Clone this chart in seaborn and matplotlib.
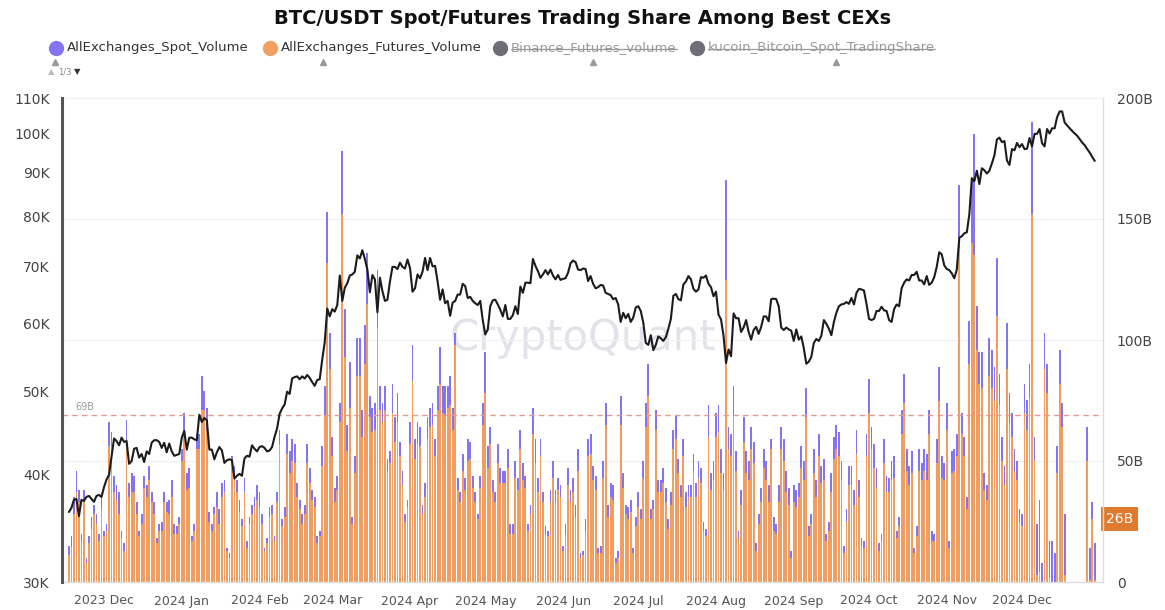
import numpy as np
import pandas as pd
import matplotlib
matplotlib.use("Agg")
import matplotlib.pyplot as plt
from matplotlib.lines import Line2D
from matplotlib.ticker import FixedLocator, NullLocator
import seaborn as sns

sns.set_style("white")
plt.rcParams['font.family'] = ['DejaVu Sans']

# ---------------- data ----------------
start_date = "2023-11-17"
end_date = "2024-12-30"

# BTC price (K USD), daily
price_nov23 = [36.2, 36.6, 37.4, 37.5, 35.8, 37.4, 37.3, 37.7, 37.8, 37.5, 37.2, 37.8, 37.9, 37.7]
price_dec23 = [38.7, 39.5, 40.0, 42.0, 44.1, 43.8, 43.3, 44.2, 43.7, 43.8, 41.2, 41.5, 42.9, 43.0, 41.9, 42.3,
               41.4, 42.6, 42.3, 43.6, 43.9, 43.9, 43.7, 43.0, 43.6, 42.5, 43.5, 42.6, 42.1, 42.2, 42.3]
price_jan24 = [44.2, 45.0, 42.8, 44.2, 44.2, 44.0, 43.9, 47.0, 46.1, 46.6, 46.3, 42.8, 42.8, 41.7, 42.5, 43.1,
               42.7, 41.3, 41.6, 41.7, 41.6, 39.6, 39.9, 40.1, 39.9, 41.8, 42.1, 42.0, 43.3, 42.9, 42.6]
price_feb24 = [43.1, 43.2, 43.0, 42.6, 42.7, 43.1, 44.3, 45.3, 47.1, 47.8, 48.3, 50.0, 49.7, 51.8, 52.0, 52.1,
               51.7, 52.1, 51.8, 52.3, 51.9, 51.3, 50.8, 51.6, 51.7, 54.5, 57.1, 62.5, 61.2]
price_mar24 = [62.4, 62.0, 63.1, 68.3, 63.8, 66.1, 66.9, 68.3, 68.5, 69.0, 72.1, 71.5, 73.1, 71.4, 69.4, 65.3,
               68.4, 67.6, 61.9, 67.9, 65.5, 63.8, 64.0, 67.2, 69.9, 69.9, 69.5, 70.7, 69.9, 69.6, 71.3]
price_apr24 = [69.7, 65.4, 66.0, 68.5, 67.8, 69.0, 71.6, 69.3, 71.6, 70.0, 70.1, 67.2, 64.0, 65.8, 63.4, 63.8,
               61.3, 63.5, 63.8, 64.9, 64.9, 66.8, 66.4, 64.3, 64.5, 63.8, 63.4, 63.1, 63.8, 60.6]
price_may24 = [58.3, 59.1, 62.9, 63.9, 64.0, 63.2, 62.3, 61.2, 63.1, 60.8, 60.8, 61.4, 62.9, 61.6, 66.3, 65.2,
               67.0, 67.0, 66.9, 71.4, 70.1, 69.1, 67.9, 68.5, 69.3, 68.5, 69.4, 68.3, 67.6, 68.4, 67.5]
price_jun24 = [67.7, 67.8, 68.8, 70.6, 71.1, 70.8, 69.4, 69.3, 69.6, 69.5, 67.3, 68.2, 66.8, 66.0, 66.2, 66.6,
               66.5, 65.2, 65.0, 64.8, 64.1, 64.3, 63.2, 60.3, 61.8, 60.9, 61.6, 60.3, 61.0, 62.7]
price_jul24 = [62.9, 62.1, 60.2, 57.0, 56.7, 58.2, 55.9, 56.7, 58.0, 57.7, 57.3, 57.9, 59.2, 60.8, 64.7, 65.0,
               64.1, 63.9, 66.7, 67.2, 68.2, 67.6, 65.9, 65.4, 65.8, 68.0, 67.9, 68.3, 66.8, 66.2, 64.6]
price_aug24 = [65.4, 61.5, 60.7, 58.1, 54.0, 56.0, 55.0, 61.7, 60.9, 60.9, 58.7, 59.4, 60.6, 58.7, 57.5, 59.0,
               59.5, 58.4, 59.5, 61.2, 61.2, 60.4, 64.1, 64.2, 64.1, 62.9, 59.4, 59.0, 59.4, 59.1, 58.9]
price_sep24 = [57.3, 59.1, 57.5, 58.0, 56.2, 53.9, 54.2, 54.9, 57.0, 57.6, 57.3, 58.1, 60.6, 60.0, 59.2, 58.2,
               60.3, 61.8, 62.9, 63.2, 63.3, 63.6, 63.3, 64.3, 63.2, 65.2, 65.9, 65.8, 65.6, 63.3]
price_oct24 = [60.8, 60.6, 60.8, 62.1, 62.1, 62.8, 62.2, 62.1, 60.6, 60.3, 62.4, 63.2, 62.9, 66.0, 67.0, 67.6,
               67.4, 68.4, 68.4, 69.0, 67.4, 67.4, 66.7, 68.2, 66.6, 67.0, 68.0, 69.9, 72.7, 72.3, 70.2]
price_nov24 = [69.5, 69.3, 68.7, 67.8, 69.4, 75.6, 75.9, 76.5, 76.7, 80.5, 88.7, 88.0, 90.5, 87.3, 91.1, 90.6,
               89.8, 90.5, 92.3, 94.3, 98.4, 98.9, 97.7, 98.0, 93.0, 91.9, 95.9, 95.6, 97.5, 96.4]
price_dec24 = [97.2, 95.9, 96.0, 98.8, 96.6, 99.9, 99.9, 101.2, 97.4, 96.6, 101.2, 100.0, 101.4, 101.4, 104.5,
               106.1, 106.1, 103.0, 102.2, 101.4, 100.7, 100.0, 99.4, 98.5, 97.6, 96.9, 95.9, 95.0, 93.9, 92.9]

# total (spot + futures) volume, billions USD, daily
total_nov23 = [15, 19, 35, 46, 38, 20, 38, 10, 19, 27, 32, 28, 20, 35]
total_dec23 = [21, 24, 66, 62, 44, 40, 37, 21, 16, 67, 41, 45, 44, 33, 21, 28, 44, 40, 48, 37, 33, 18, 24, 25,
               37, 33, 34, 42, 24, 23, 27]
total_jan24 = [55, 70, 45, 47, 19, 24, 61, 61, 85, 79, 72, 29, 24, 31, 37, 30, 41, 42, 14, 12, 52, 48, 42, 34,
               26, 43, 17, 27, 32, 35, 40]
total_feb24 = [37, 28, 14, 18, 31, 32, 19, 37, 63, 26, 31, 61, 54, 59, 57, 41, 34, 28, 32, 57, 47, 38, 35, 19,
               21, 56, 81, 153, 103]
total_mar24 = [60, 39, 44, 74, 178, 113, 65, 91, 27, 52, 101, 101, 71, 106, 136, 77, 72, 74, 129, 81, 74, 81,
               51, 54, 82, 68, 78, 58, 46, 28, 34]
total_apr24 = [66, 98, 59, 66, 64, 32, 41, 68, 72, 74, 59, 81, 97, 81, 81, 81, 85, 72, 103, 43, 37, 53, 43, 59,
               58, 44, 37, 28, 44, 74]
total_may24 = [95, 56, 64, 42, 37, 57, 47, 46, 46, 55, 24, 24, 50, 43, 63, 49, 44, 24, 32, 72, 59, 43, 59, 37,
               23, 21, 38, 50, 38, 43, 40]
total_jun24 = [15, 24, 47, 38, 43, 32, 55, 12, 13, 26, 59, 61, 48, 44, 14, 15, 50, 74, 32, 41, 40, 10, 13, 77,
               45, 32, 31, 34, 14, 27]
total_jul24 = [37, 30, 50, 74, 90, 30, 34, 71, 42, 42, 47, 39, 26, 37, 63, 69, 51, 40, 59, 37, 40, 40, 53, 41,
               50, 47, 25, 22, 73, 45, 50]
total_aug24 = [70, 73, 55, 45, 166, 64, 61, 81, 54, 21, 38, 68, 54, 50, 64, 58, 16, 28, 39, 55, 50, 40, 59, 27,
               24, 40, 64, 59, 46, 39, 13]
total_sep24 = [40, 38, 41, 56, 50, 80, 23, 28, 55, 42, 61, 48, 51, 20, 25, 45, 60, 65, 62, 50, 15, 30, 48, 48,
               38, 63, 42, 18, 17, 61]
total_oct24 = [84, 64, 57, 47, 16, 20, 59, 44, 43, 50, 52, 21, 27, 71, 86, 55, 48, 54, 14, 23, 55, 49, 55, 53,
               71, 21, 20, 59, 89, 52, 49]
total_nov24 = [74, 17, 54, 55, 61, 164, 70, 60, 35, 108, 166, 185, 114, 95, 95, 45, 40, 101, 96, 89, 134, 86,
               60, 48, 107, 78, 70, 55, 50, 30]
total_dec24 = [28, 82, 75, 90, 190, 60, 24, 34, 8, 103, 90, 17, 17, 12, 56, 96, 74, 28, 0, 0, 0, 0, 0, 0, 0, 0,
               64, 14, 33, 16]

# futures volume, billions USD, daily
fut_nov23 = [11, 14.5, 28, 37, 33, 17, 34, 8, 16, 22, 28, 24, 17, 30]
fut_dec23 = [19, 21, 56, 56, 37, 34, 28, 18, 13, 56, 35, 37, 37, 28, 19, 24, 39, 35, 42, 33, 28, 16, 21, 21,
             33, 29, 28, 35, 20, 20, 24]
fut_jan24 = [50, 61, 38, 39, 17, 21, 55, 55, 71, 71, 63, 25, 21, 28, 31, 24, 35, 37, 13, 10, 49, 42, 37, 29,
             23, 37, 14, 24, 28, 31, 34]
fut_feb24 = [31, 24, 13, 16, 27, 28, 17, 33, 57, 23, 27, 53, 45, 50, 49, 35, 30, 24, 28, 49, 41, 34, 31, 16,
             19, 48, 69, 132, 88]
fut_mar24 = [52, 33, 38, 66, 152, 93, 54, 72, 24, 45, 85, 85, 60, 90, 115, 68, 62, 63, 105, 71, 66, 71,
             46, 49, 70, 58, 66, 52, 40, 25, 31]
fut_apr24 = [57, 83, 51, 57, 56, 28, 35, 59, 64, 65, 52, 71, 82, 70, 69, 72, 73, 63, 98, 38, 33, 46, 38, 50,
             51, 39, 33, 26, 39, 65]
fut_may24 = [78, 47, 57, 37, 33, 49, 41, 41, 41, 47, 20, 20, 43, 38, 55, 42, 39, 21, 28, 61, 49, 37, 52, 33,
             20, 19, 33, 43, 33, 38, 35]
fut_jun24 = [13, 20, 40, 33, 37, 27, 46, 10, 11, 21, 52, 53, 42, 38, 12, 12, 43, 65, 27, 35, 34, 8, 10, 65,
             39, 28, 26, 29, 12, 23]
fut_jul24 = [31, 26, 43, 64, 77, 26, 30, 63, 37, 37, 41, 33, 22, 32, 55, 59, 45, 35, 52, 31, 35, 35, 46, 35,
             43, 41, 21, 19, 60, 38, 42]
fut_aug24 = [60, 62, 45, 38, 125, 55, 52, 69, 46, 18, 32, 58, 45, 42, 55, 49, 13, 24, 33, 47, 42, 33, 55, 21,
             20, 33, 55, 50, 37, 32, 10]
fut_sep24 = [33, 31, 35, 47, 42, 68, 19, 24, 45, 35, 52, 41, 42, 17, 21, 37, 51, 55, 52, 42, 12, 25, 40, 40,
             32, 53, 35, 15, 14, 52]
fut_oct24 = [70, 55, 47, 39, 13, 17, 49, 37, 37, 42, 43, 18, 23, 61, 74, 46, 40, 45, 12, 19, 46, 42, 46, 42,
             61, 17, 17, 49, 75, 43, 42]
fut_nov24 = [63, 14, 45, 46, 52, 138, 61, 52, 30, 90, 140, 135, 96, 82, 80, 38, 34, 85, 80, 75, 110, 73,
             50, 40, 88, 66, 60, 46, 42, 25]
fut_dec24 = [23, 70, 63, 76, 152, 50, 3, 4, 0, 88, 78, 2, 0, 0, 45, 82, 64, 3, 0, 0, 0, 0, 0, 0, 0, 0,
             50, 1, 26, 1]

threshold_b = 69
last_label_b = 26
month_ticks = ["2023-12-01", "2024-01-01", "2024-02-01", "2024-03-01", "2024-04-01", "2024-05-01",
               "2024-06-01", "2024-07-01", "2024-08-01", "2024-09-01", "2024-10-01", "2024-11-01",
               "2024-12-01"]
month_labels = ["2023 Dec", "2024 Jan", "2024 Feb", "2024 Mar", "2024 Apr", "2024 May", "2024 Jun",
                "2024 Jul", "2024 Aug", "2024 Sep", "2024 Oct", "2024 Nov", "2024 Dec"]
left_ticks = [30000, 40000, 50000, 60000, 70000, 80000, 90000, 100000, 110000]
left_labels = ["30K", "40K", "50K", "60K", "70K", "80K", "90K", "100K", "110K"]
right_ticks = [0, 50, 100, 150, 200]
right_labels = ["0", "50B", "100B", "150B", "200B"]
legend_names = ["AllExchanges_Spot_Volume", "AllExchanges_Futures_Volume",
                "Binance_Futures_volume", "kucoin_Bitcoin_Spot_TradingShare"]
title = "BTC/USDT Spot/Futures Trading Share Among Best CEXs"

# ---------------- assemble ----------------
dates = pd.date_range(start_date, end_date, freq="D")
price = np.array(price_nov23 + price_dec23 + price_jan24 + price_feb24 + price_mar24 + price_apr24 +
                 price_may24 + price_jun24 + price_jul24 + price_aug24 + price_sep24 + price_oct24 +
                 price_nov24 + price_dec24) * 1000
total = np.array(total_nov23 + total_dec23 + total_jan24 + total_feb24 + total_mar24 + total_apr24 +
                 total_may24 + total_jun24 + total_jul24 + total_aug24 + total_sep24 + total_oct24 +
                 total_nov24 + total_dec24, dtype=float)
fut = np.array(fut_nov23 + fut_dec23 + fut_jan24 + fut_feb24 + fut_mar24 + fut_apr24 +
               fut_may24 + fut_jun24 + fut_jul24 + fut_aug24 + fut_sep24 + fut_oct24 +
               fut_nov24 + fut_dec24, dtype=float)
spot = total - fut

ORANGE = "#F09D62"
PURPLE = "#8474F2"

W, H = 1165, 610
fig = plt.figure(figsize=(W / 100, H / 100), dpi=100)
fig.patch.set_facecolor("white")

def fx(px):
    return px / W

def fy(py):
    return 1 - py / H

ax = fig.add_axes([fx(62), fy(582), (1103 - 62) / W, (582 - 98) / H])
ax.set_facecolor("none")
ax2 = ax.twinx()

# watermark
fig.text(fx(583), fy(338), "CryptoQuant", ha="center", va="center", fontsize=30,
         color="#e2e2ea", fontweight="normal", zorder=-1)

# bars (volume, right scale)
ax.bar(dates, fut, width=0.72, color=ORANGE, linewidth=0, zorder=2)
ax.bar(dates, spot, bottom=fut, width=0.72, color=PURPLE, linewidth=0, zorder=2)
ax.set_ylim(0, 200)
ax.yaxis.tick_right()
ax.yaxis.set_label_position("right")
ax.yaxis.set_major_locator(FixedLocator(right_ticks))
ax.set_yticklabels(right_labels)
ax.yaxis.grid(True, color="#f1f1f1", linewidth=0.8, zorder=0)
ax.set_axisbelow(True)
ax.axhline(threshold_b, color="#e49a8c", linestyle=(0, (4, 3)), linewidth=1.0, zorder=3)
ax.text(13 / (1103 - 62), threshold_b + 1.2, f"{threshold_b}B", transform=ax.get_yaxis_transform(),
        fontsize=7, color="#999999", ha="left", va="bottom")

xmin = pd.Timestamp("2023-11-14 06:00")
xmax = pd.Timestamp("2025-01-02 07:00")
ax.set_xlim(xmin, xmax)
ax.xaxis.set_major_locator(FixedLocator([matplotlib.dates.date2num(pd.Timestamp(d)) for d in month_ticks]))
ax.set_xticklabels(month_labels)
ax.tick_params(axis="x", length=3, color="#cccccc", pad=6, labelsize=9, labelcolor="#555555")
ax.tick_params(axis="y", which="both", left=False, labelleft=False, right=False, labelright=True,
               length=0, pad=10, labelsize=10, labelcolor="#444444")
for s in ["left", "top", "right"]:
    ax.spines[s].set_visible(False)
ax.spines["bottom"].set_color("#dddddd")
ax.spines["bottom"].set_linewidth(1.0)

# 26B marker on right axis
ax.text(1.003, last_label_b, f"{last_label_b}B", transform=ax.get_yaxis_transform(),
        ha="left", va="center", fontsize=10, color="white",
        bbox=dict(boxstyle="square,pad=0.35", fc="#E07A2E", ec="none"), zorder=6, clip_on=False)

# price line (left log scale)
sns.lineplot(x=dates, y=price, ax=ax2, color="#1c1c1c", linewidth=1.5, zorder=5)
ax2.set_yscale("log")
ax2.set_ylim(30000, 110000)
ax2.yaxis.tick_left()
ax2.yaxis.set_label_position("left")
ax2.yaxis.set_major_locator(FixedLocator(left_ticks))
ax2.yaxis.set_minor_locator(NullLocator())
ax2.set_yticklabels(left_labels)
ax2.set_ylabel("")
ax2.tick_params(axis="y", which="both", left=False, labelleft=True, right=False, labelright=False,
                length=0, pad=9, labelsize=10, labelcolor="#444444")
ax2.set_xlim(xmin, xmax)
ax2.spines["top"].set_visible(False)
ax2.spines["bottom"].set_visible(False)
ax2.spines["left"].set_color("#555555")
ax2.spines["left"].set_linewidth(2.2)
ax2.spines["right"].set_color("#dddddd")
ax2.spines["right"].set_linewidth(1.0)

# title
fig.text(fx(583), fy(18), title, ha="center", va="center", fontsize=14, fontweight="bold", color="#111111")

# legend
leg_x = [56, 270, 500, 697]
leg_colors = [PURPLE, "#F0A060", "#6e6e78", "#6e6e78"]
leg_strike = [False, False, True, True]
sub_marks = [55, 323, 593, 836]
renderer = fig.canvas.get_renderer()
for x0, name, c, strike in zip(leg_x, legend_names, leg_colors, leg_strike):
    fig.add_artist(Line2D([fx(x0)], [fy(48)], marker="o", markersize=10, color=c,
                          linestyle="none", transform=fig.transFigure))
    t = fig.text(fx(x0 + 11), fy(48), name, ha="left", va="center", fontsize=9.5,
                 color="#999999" if strike else "#333333")
    if strike:
        bb = t.get_window_extent(renderer=renderer)
        fig.add_artist(Line2D([bb.x0 / W, bb.x1 / W], [fy(49)] * 2, color="#999999", linewidth=0.9,
                              transform=fig.transFigure))
for xm in sub_marks:
    fig.add_artist(Line2D([fx(xm)], [fy(62)], marker="^", markersize=4, color="#9a9a9a",
                          linestyle="none", transform=fig.transFigure))
fig.text(fx(48), fy(72), "\u25B2", fontsize=6, color="#bbbbbb", ha="left", va="center")
fig.text(fx(58), fy(72), "1/3", fontsize=6, color="#888888", ha="left", va="center")
fig.text(fx(74), fy(72), "\u25BC", fontsize=6, color="#333333", ha="left", va="center")

fig.savefig("out.png", dpi=100, facecolor="white")
